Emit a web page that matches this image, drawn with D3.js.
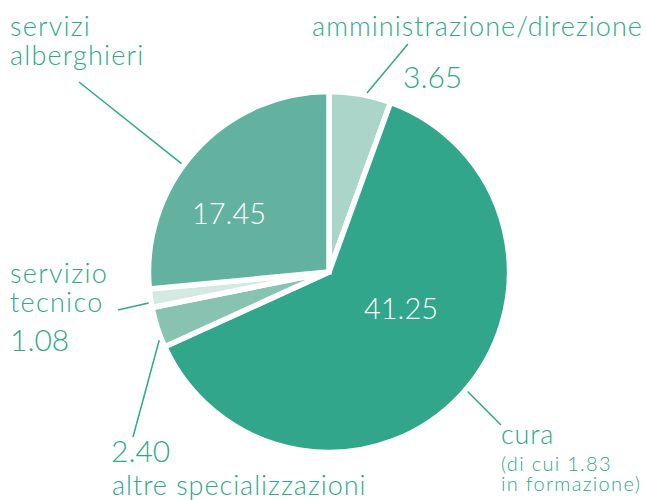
<!DOCTYPE html>
<html>
<head>
<meta charset="utf-8">
<script src="https://cdn.jsdelivr.net/npm/d3@7"></script>
<style>
  body { margin: 0; background: #fff; }
  text { font-family: Lato, "Open Sans", sans-serif; font-weight: 300; }
</style>
</head>
<body>
<svg id="svg_pie" width="646" height="500"></svg>
<script>
// values in clockwise order from 12 o'clock
var categories = ["amministrazione/direzione", "cura", "altre specializzazioni", "servizio tecnico", "servizi alberghieri"];
var values = [3.65, 41.25, 2.40, 1.08, 17.45];
var valueLabels = ["3.65", "41.25", "2.40", "1.08", "17.45"];
var colors = ["#acd5c9", "#31a68a", "#88c3b2", "#d4e9e2", "#63b2a0"];

var textColor = "#2fa88c";

var svg = d3.select("#svg_pie"),
    cx = 329, cy = 272,
    radius = 180.5,
    g = svg.append("g").attr("transform", "translate(" + cx + "," + cy + ")");

var pie = d3.pie().sort(null).value(function (d) { return d; });
var path = d3.arc().outerRadius(radius).innerRadius(0);
var arcs = pie(values);

g.selectAll(".arc").data(arcs).enter().append("path")
    .attr("class", "arc")
    .attr("d", path)
    .attr("fill", function (d, i) { return colors[i]; })
    .attr("stroke", "#fff")
    .attr("stroke-width", 5.5)
    .attr("stroke-linejoin", "miter");

// leader lines: start just outside the pie near each slice, end at the label
var leaderShift = [2, -2, -4, -1.4, -6]; // degrees
var leaderEnd = [[408, 44], [501, 425], [133, 437], [118, 310], [79, 82]];
var leaderR = 183;

g.selectAll(".leader").data(arcs).enter().append("line")
    .attr("class", "leader")
    .attr("x1", function (d, i) {
        var a = (d.startAngle + d.endAngle) / 2 + leaderShift[i] * Math.PI / 180;
        return Math.sin(a) * leaderR;
    })
    .attr("y1", function (d, i) {
        var a = (d.startAngle + d.endAngle) / 2 + leaderShift[i] * Math.PI / 180;
        return -Math.cos(a) * leaderR;
    })
    .attr("x2", function (d, i) { return leaderEnd[i][0] - cx; })
    .attr("y2", function (d, i) { return leaderEnd[i][1] - cy; })
    .attr("stroke", textColor)
    .attr("stroke-width", 1.5);

// outside labels
var labels = svg.append("g").attr("fill", textColor);

function addText(txt, x, y, size, spacing, anchor) {
    labels.append("text")
        .attr("x", x).attr("y", y)
        .attr("font-size", size)
        .attr("letter-spacing", spacing)
        .attr("text-anchor", anchor || "start")
        .text(txt);
}

addText(categories[0], 643, 36, 27, 1.05, "end");
addText(valueLabels[0], 403, 88, 30, 0);

addText("servizi", 10, 36, 27, 1.2);
addText("alberghieri", 10, 65, 27, 1.2);

addText("servizio", 10, 283, 27, 1.3);
addText("tecnico", 10, 312, 27, 1.3);
addText(valueLabels[3], 10, 351, 30, 0);

addText(valueLabels[2], 111, 461.5, 30, 0);
addText(categories[2], 112, 495, 27, 0.95);

addText(categories[1], 501, 444, 27, 0.8);
addText("(di cui 1.83", 501, 470.5, 20, 1.3);
addText("in formazione)", 501, 490.5, 20, 1.3);

// values inside the two big slices
svg.append("text").attr("x", 229).attr("y", 224)
    .attr("font-size", 29).attr("text-anchor", "middle").attr("fill", "#fff")
    .text(valueLabels[4]);
svg.append("text").attr("x", 401).attr("y", 319)
    .attr("font-size", 29).attr("text-anchor", "middle").attr("fill", "#fff")
    .text(valueLabels[1]);
</script>
</body>
</html>
